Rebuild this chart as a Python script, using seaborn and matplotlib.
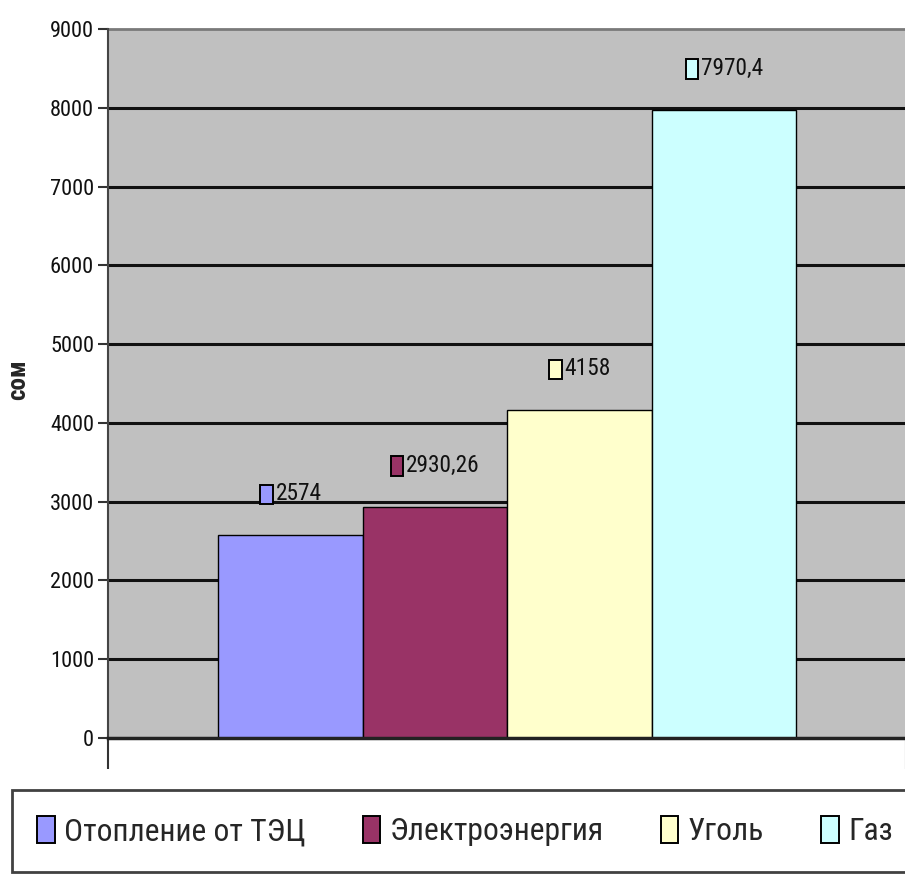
import matplotlib
matplotlib.use("Agg")
import matplotlib.pyplot as plt
from matplotlib import font_manager as fm
from matplotlib.patches import Rectangle, Patch
from matplotlib.offsetbox import AnnotationBbox, DrawingArea, TextArea, HPacker
import seaborn as sns
import pandas as pd

# Стоимость отопления по видам топлива, сом
categories = ["Отопление от ТЭЦ", "Электроэнергия", "Уголь", "Газ"]
values = [2574, 2930.26, 4158, 7970.4]
value_labels = ["2574", "2930,26", "4158", "7970,4"]
colors = ["#9999ff", "#993366", "#ffffcc", "#ccffff"]
y_ticks = [0, 1000, 2000, 3000, 4000, 5000, 6000, 7000, 8000, 9000]
y_title = "сом"

sns.set_theme(style="white")

# prefer a narrow sans face when one is installed
_installed = {f.name for f in fm.fontManager.ttflist}
_narrow = [n for n in ("Liberation Sans Narrow", "Arial Narrow", "Roboto Condensed",
                       "Open Sans Condensed", "Noto Sans Condensed") if n in _installed]
if _narrow:
    main_family = [_narrow[0], "Liberation Sans", "DejaVu Sans"]
    k = 1.2
else:
    main_family = ["Liberation Sans", "DejaVu Sans"]
    k = 1.0
plt.rcParams["font.family"] = main_family

df = pd.DataFrame({"cat": categories, "val": values})

fig = plt.figure(figsize=(9.05, 8.81), dpi=100)
ax = fig.add_axes([108 / 905, 1 - 738 / 881, 798 / 905, (738 - 29) / 881])
ax.set_facecolor("#c0c0c0")

sns.barplot(data=df, x="cat", y="val", hue="cat", palette=colors, width=1.0,
            saturation=1, edgecolor="black", linewidth=1.0, legend=False,
            ax=ax, zorder=3)

ax.set_ylim(0, 9000)
ax.set_yticks(y_ticks)
ax.set_yticklabels([str(t) for t in y_ticks], fontsize=13.4 * k)
ax.tick_params(axis="y", left=True, direction="out", length=7, width=1.5,
               color="#333333", pad=3, labelcolor="#111111")

unit = 578 / 4.0
x_lo = -0.5 - 110 / unit
x_hi = 3.5 + 110 / unit
ax.set_xlim(x_lo, x_hi)
ax.set_xticks([x_lo, x_hi])
ax.set_xticklabels(["", ""])
ax.tick_params(axis="x", bottom=True, direction="out", length=22, width=1.5,
               color="#333333")
ax.set_xlabel("")
ax.set_ylabel(y_title, fontsize=18, fontweight="bold")
ax.yaxis.set_label_coords((30 - 108) / 798, (738 - 380) / 709)

for t in y_ticks[1:-1]:
    ax.axhline(t, color="#111111", linewidth=2.2, zorder=1)

for side in ["top", "right"]:
    ax.spines[side].set_visible(False)
ax.axhline(9000, color="#7a7a7a", linewidth=2.0, zorder=1, clip_on=False)
ax.spines["left"].set_color("#444444")
ax.spines["left"].set_linewidth(1.5)
ax.spines["bottom"].set_color("#222222")
ax.spines["bottom"].set_linewidth(2.5)
ax.spines["bottom"].set_zorder(4)

# value labels with a small colour key in front of the number
for i, (v, lab, c) in enumerate(zip(values, value_labels, colors)):
    da = DrawingArea(11, 15, 0, 0)
    da.add_artist(Rectangle((1, 0), 9, 14, facecolor=c, edgecolor="black", linewidth=1.4))
    ta = TextArea(lab, textprops=dict(fontsize=14 * k, color="#111111"))
    box = HPacker(children=[da, ta], align="center", pad=0, sep=1)
    ab = AnnotationBbox(box, (i, v), xybox=(0, 30), xycoords="data",
                        boxcoords="offset points", frameon=False,
                        box_alignment=(0.5, 0.5), zorder=5)
    ax.add_artist(ab)

handles = [Patch(facecolor=c, edgecolor="black", linewidth=1.4) for c in colors]
leg = fig.legend(handles, categories, ncol=4, mode="expand",
                 bbox_to_anchor=(12 / 905, 1 - 872 / 881, 906 / 905, 82 / 881),
                 loc="center", fontsize=19 * k, frameon=True, fancybox=False,
                 handlelength=0.55, handleheight=0.95, handletextpad=0.3,
                 borderaxespad=0, borderpad=0.8)
leg.get_frame().set_edgecolor("#111111")
leg.get_frame().set_linewidth(2.0)

fig.savefig("out.png", dpi=100, facecolor="white")
